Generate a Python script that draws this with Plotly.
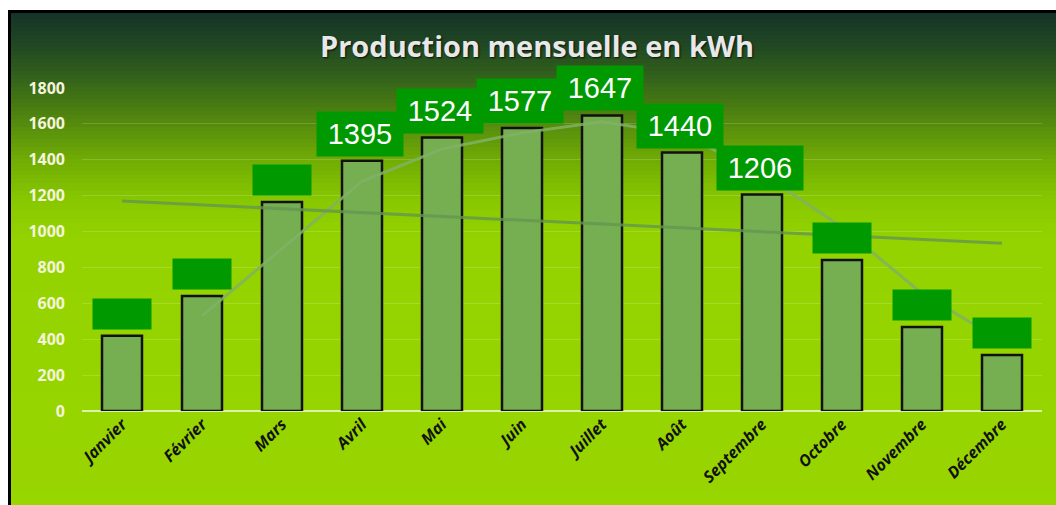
import plotly.graph_objects as go

# ---- data ----
months = ["Janvier", "Février", "Mars", "Avril", "Mai", "Juin", "Juillet",
          "Août", "Septembre", "Octobre", "Novembre", "Décembre"]
production = [420, 641, 1165, 1395, 1524, 1577, 1647, 1440, 1206, 842, 468, 312]
label_visible = [False, False, False, True, True, True, True, True, True, False, False, False]
moving_avg = [None, 530, 903, 1280, 1460, 1550, 1612, 1543, 1323, 1024, 655, 390]
trend_months = ["Janvier", "Décembre"]
trend_values = [1170, 935]
y_ticks = [0, 200, 400, 600, 800, 1000, 1200, 1400, 1600, 1800]

# ---- geometry (body margin removed by post_script, so figure coords = page coords) ----
W, H = 1056, 505
L = 82
T = 88
R = W - 1042
B = H - 411
pw, ph = W - L - R, H - T - B


def px_x(p):
    return (p - L) / pw


def px_y(p):
    return (H - B - p) / ph


# background gradient colour stops (page pixel y, rgb)
stops = [(10, (20, 50, 40)), (40, (30, 68, 36)), (80, (52, 100, 26)),
         (120, (82, 136, 14)), (160, (112, 172, 4)), (200, (136, 200, 0)),
         (240, (148, 211, 0)), (540, (153, 214, 0))]


def col_at(y):
    for (y0, c0), (y1, c1) in zip(stops[:-1], stops[1:]):
        if y0 <= y <= y1:
            t = (y - y0) / (y1 - y0)
            return "rgb(%d,%d,%d)" % tuple(round(a + (b - a) * t) for a, b in zip(c0, c1))
    return "rgb(%d,%d,%d)" % stops[-1][1]


shapes = []
step = 4
y = 11
while y < 515:
    shapes.append(dict(type="rect", xref="paper", yref="paper",
                       x0=px_x(10), x1=px_x(1080), y0=px_y(y + step + 0.5), y1=px_y(y),
                       fillcolor=col_at(y + step / 2), line=dict(width=0), layer="below"))
    y += step
# frame (left and top edges visible; the rest runs off the picture)
shapes.append(dict(type="line", xref="paper", yref="paper",
                   x0=px_x(9.5), x1=px_x(9.5), y0=px_y(540), y1=px_y(10),
                   line=dict(color="black", width=3), layer="below"))
shapes.append(dict(type="line", xref="paper", yref="paper",
                   x0=px_x(8), x1=px_x(1100), y0=px_y(11.5), y1=px_y(11.5),
                   line=dict(color="black", width=3), layer="below"))

fig = go.Figure()

fig.add_trace(go.Bar(
    x=months, y=production,
    marker=dict(color="#76ae52", line=dict(color="#111111", width=2.5)),
    width=0.5, showlegend=False, hoverinfo="x+y"))

fig.add_trace(go.Scatter(
    x=months, y=moving_avg, mode="lines",
    line=dict(color="rgba(128,178,100,0.85)", width=3), showlegend=False))

fig.add_trace(go.Scatter(
    x=trend_months, y=trend_values, mode="lines",
    line=dict(color="rgba(100,150,80,0.8)", width=3), showlegend=False))

annotations = []
for m, v, vis in zip(months, production, label_visible):
    if vis:
        annotations.append(dict(x=m, y=v, xref="x", yref="y", text=str(v),
                                showarrow=False, yanchor="bottom", yshift=4, xshift=-2,
                                bgcolor="#009a00", width=86, height=44, borderpad=0,
                                font=dict(family="Liberation Sans, Arial", size=29, color="white")))
    else:
        annotations.append(dict(x=m, y=v, xref="x", yref="y", text=" ",
                                showarrow=False, yanchor="bottom", yshift=6,
                                bgcolor="#009a00", width=58, height=30, borderpad=0,
                                font=dict(size=10, color="white")))

fig.update_layout(
    width=W, height=H,
    margin=dict(l=L, r=R, t=T, b=B, pad=0),
    paper_bgcolor="white",
    plot_bgcolor="rgba(0,0,0,0)",
    bargap=0.5,
    shapes=shapes,
    annotations=annotations,
    title=dict(text="Production mensuelle en kWh", x=537 / W, xref="container",
               xanchor="center", y=1 - 47 / H, yref="container", yanchor="middle",
               font=dict(family="Open Sans", size=29, weight="bold", color="#e8e8e8",
                         shadow="1px 1px 2px rgba(0,0,0,0.8)")),
    xaxis=dict(tickangle=-45, showgrid=False, ticks="", showline=False,
               tickfont=dict(family="Open Sans", size=16, color="#111111",
                             weight="bold", style="italic"),
               range=[-0.5, 11.5]),
    yaxis=dict(range=[0, 1800], tickvals=y_ticks, showgrid=True,
               gridcolor="rgba(255,255,255,0.16)", gridwidth=1,
               zeroline=True, zerolinecolor="rgba(225,245,190,0.9)", zerolinewidth=2,
               ticklabelstandoff=16,
               tickfont=dict(family="Open Sans", size=16, color="#f4f4dc", weight="bold")),
)

fig.write_html("out.html", config={"displayModeBar": False},
               post_script="document.body.style.margin='0';document.body.style.overflow='hidden';")
